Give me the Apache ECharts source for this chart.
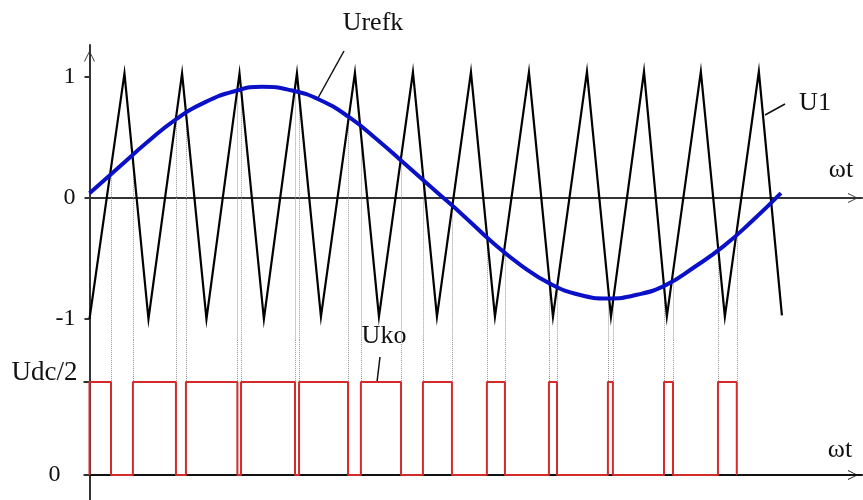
<!DOCTYPE html>
<html><head><meta charset="utf-8">
<script src="https://cdn.jsdelivr.net/npm/echarts@6/dist/echarts.min.js"></script>
<style>html,body{margin:0;padding:0;background:#fff}#c{width:863px;height:500px}</style>
</head><body><div id="c"></div>
<script>
// ωt in electrical degrees (one period of Urefk spans 0..360)
const carrierT  = [0, 18.2, 30.7, 48.2, 60.9, 78.1, 90.8, 108.0, 120.5, 138.2, 150.7, 168.4, 180.9, 198.6, 211.1, 228.8, 241.3, 259.0, 271.5, 288.7, 300.6, 318.3, 330.8, 348.5, 360.5];
const carrierU1 = [-1, 1.03, -1, 1.03, -1, 1.03, -1, 1.03, -0.98, 1.035, -0.98, 1.04, -0.98, 1.04, -0.98, 1.04, -0.98, 1.045, -0.98, 1.045, -0.98, 1.045, -0.98, 1.045, -0.97];

const refT      = [0, 15, 30, 45, 60, 75, 90, 105, 120, 135, 150, 165, 180, 195, 210, 225, 240, 255, 270, 285, 300, 315, 330, 345, 360];
const refUrefk  = [0.04, 0.25, 0.46, 0.65, 0.79, 0.88, 0.92, 0.89, 0.81, 0.67, 0.48, 0.27, 0.06, -0.15, -0.37, -0.56, -0.71, -0.80, -0.83, -0.80, -0.72, -0.57, -0.40, -0.19, 0.04];

// switching instants of Uko and the level after each switch (1 = Udc/2, 0 = 0)
const ukoSwitchT = [0, 11.2, 22.6, 45.0, 50.2, 77.0, 78.9, 107.0, 109.1, 134.6, 141.3, 162.2, 173.6, 188.7, 206.9, 216.3, 239.2, 243.4, 269.9, 272.5, 299.1, 303.8, 327.2, 337.0];
const ukoLevel   = [1, 0, 1, 0, 1, 0, 1, 0, 1, 0, 1, 0, 1, 0, 1, 0, 1, 0, 1, 0, 1, 0, 1, 0];
// Urefk value at each crossing (where the dotted projection lines start)
const crossLevel = [0.20, 0.37, 0.66, 0.72, 0.88, 0.89, 0.88, 0.87, 0.68, 0.60, 0.31, 0.16, -0.03, -0.33, -0.46, -0.70, -0.73, -0.83, -0.83, -0.72, -0.69, -0.43, -0.30];

const upperTicks = [-1, 0, 1];
const lowerTicks = [0, 1];
const lowerTickNames = ['0', 'Udc/2'];

const X_MAX = 402.2;
const UP_MIN = -1.1736, UP_MAX = 1.2645;
const LO_MIN = -0.2688, LO_MAX = 1.4516;

const SERIF = '"Liberation Serif","Times New Roman",serif';
const AXIS_COLOR = '#333';
const arrowPath = 'path://M10,0 L20,20 L18.2,20 L10,3.2 L1.8,20 L0,20 Z';

const ukoData = [[0, 0]];
ukoSwitchT.forEach((t, i) => {
  const prev = i === 0 ? 0 : ukoLevel[i - 1];
  if (i > 0) ukoData.push([t, prev]);
  ukoData.push([t, ukoLevel[i]]);
});

const guideUpper = [], guideLower = [];
ukoSwitchT.slice(1).forEach((t, i) => {
  guideUpper.push({ coords: [[t, crossLevel[i]], [t, UP_MIN]] });
  guideLower.push({ coords: [[t, LO_MAX], [t, 1]] });
});

const chart = echarts.init(document.getElementById('c'), null, { renderer: 'canvas' });
chart.setOption({
  animation: false,
  backgroundColor: '#fff',
  grid: [
    { left: 89.5, right: 1, top: 45, height: 295 },
    { left: 89.5, right: 1, top: 340, height: 160 }
  ],
  xAxis: [
    { type: 'value', gridIndex: 0, min: 0, max: X_MAX,
      axisLine: { onZero: true, symbol: ['none', arrowPath], symbolSize: [10, 18], symbolOffset: [0, -9],
                  lineStyle: { color: AXIS_COLOR, width: 2 } },
      axisTick: { show: false }, axisLabel: { show: false }, splitLine: { show: false } },
    { type: 'value', gridIndex: 1, min: 0, max: X_MAX,
      axisLine: { onZero: true, symbol: ['none', arrowPath], symbolSize: [10, 18], symbolOffset: [0, -9],
                  lineStyle: { color: '#111', width: 2 } },
      axisTick: { show: false }, axisLabel: { show: false }, splitLine: { show: false } }
  ],
  yAxis: [
    { type: 'value', gridIndex: 0, min: UP_MIN, max: UP_MAX,
      axisLine: { show: true, symbol: ['none', arrowPath], symbolSize: [11, 22], symbolOffset: [0, -11],
                  lineStyle: { color: AXIS_COLOR, width: 2 } },
      axisTick: { show: true, customValues: upperTicks, length: 5, lineStyle: { color: AXIS_COLOR, width: 2 } },
      axisLabel: { show: true, customValues: upperTicks, margin: 14, color: '#111',
                   fontFamily: SERIF, fontSize: 24, formatter: v => String(v) },
      splitLine: { show: false } },
    { type: 'value', gridIndex: 1, min: LO_MIN, max: LO_MAX,
      axisLine: { show: true, lineStyle: { color: AXIS_COLOR, width: 2 } },
      axisTick: { show: true, customValues: lowerTicks, length: 6, lineStyle: { color: AXIS_COLOR, width: 2 } },
      axisLabel: { show: true, customValues: lowerTicks, margin: 12, color: '#111',
                   formatter: v => (v === 1 ? '{u|' + lowerTickNames[1] + '}' : '{z|' + lowerTickNames[0] + '}'),
                   rich: {
                     u: { fontFamily: SERIF, fontSize: 27, color: '#111', padding: [0, 0, 18, 0] },
                     z: { fontFamily: SERIF, fontSize: 24, color: '#111', padding: [0, 17, 0, 0] }
                   } },
      splitLine: { show: false } }
  ],
  series: [
    { name: 'guidesUpper', type: 'lines', coordinateSystem: 'cartesian2d', xAxisIndex: 0, yAxisIndex: 0,
      data: guideUpper, silent: true, z: 1,
      lineStyle: { color: '#9a9a9a', width: 1, type: 'dotted', opacity: 1 } },
    { name: 'guidesLower', type: 'lines', coordinateSystem: 'cartesian2d', xAxisIndex: 1, yAxisIndex: 1,
      data: guideLower, silent: true, z: 1,
      lineStyle: { color: '#9a9a9a', width: 1, type: 'dotted', opacity: 1 } },
    { name: 'U1', type: 'line', xAxisIndex: 0, yAxisIndex: 0, showSymbol: false, z: 3,
      data: carrierT.map((t, i) => [t, carrierU1[i]]),
      lineStyle: { color: '#000', width: 2.2, join: 'miter' } },
    { name: 'Urefk', type: 'line', xAxisIndex: 0, yAxisIndex: 0, showSymbol: false, smooth: 0.5, z: 4,
      data: refT.map((t, i) => [t, refUrefk[i]]),
      lineStyle: { color: '#0a10c8', width: 4 } },
    { name: 'Uko', type: 'line', xAxisIndex: 1, yAxisIndex: 1, showSymbol: false, z: 4,
      data: ukoData,
      lineStyle: { color: '#d42a2a', width: 2 } }
  ],
  graphic: [
    { type: 'text', x: 373, y: 23, style: { text: 'Urefk', font: '26px ' + SERIF, fill: '#111', align: 'center', verticalAlign: 'middle', textAlign: 'center', textVerticalAlign: 'middle' } },
    { type: 'line', shape: { x1: 344, y1: 51, x2: 318, y2: 98 }, style: { stroke: '#111', lineWidth: 1.5 } },
    { type: 'text', x: 815, y: 103, style: { text: 'U1', font: '26px ' + SERIF, fill: '#111', align: 'center', verticalAlign: 'middle', textAlign: 'center', textVerticalAlign: 'middle' } },
    { type: 'line', shape: { x1: 765, y1: 115, x2: 785, y2: 104 }, style: { stroke: '#111', lineWidth: 1.5 } },
    { type: 'text', x: 841, y: 170, style: { text: 'ωt', font: '26px ' + SERIF, fill: '#111', align: 'center', verticalAlign: 'middle', textAlign: 'center', textVerticalAlign: 'middle' } },
    { type: 'text', x: 384, y: 336, style: { text: 'Uko', font: '26px ' + SERIF, fill: '#111', align: 'center', verticalAlign: 'middle', textAlign: 'center', textVerticalAlign: 'middle' } },
    { type: 'line', shape: { x1: 380, y1: 357, x2: 377, y2: 382 }, style: { stroke: '#111', lineWidth: 1.5 } },
    { type: 'text', x: 840, y: 450, style: { text: 'ωt', font: '26px ' + SERIF, fill: '#111', align: 'center', verticalAlign: 'middle', textAlign: 'center', textVerticalAlign: 'middle' } }
  ]
});
</script></body></html>
